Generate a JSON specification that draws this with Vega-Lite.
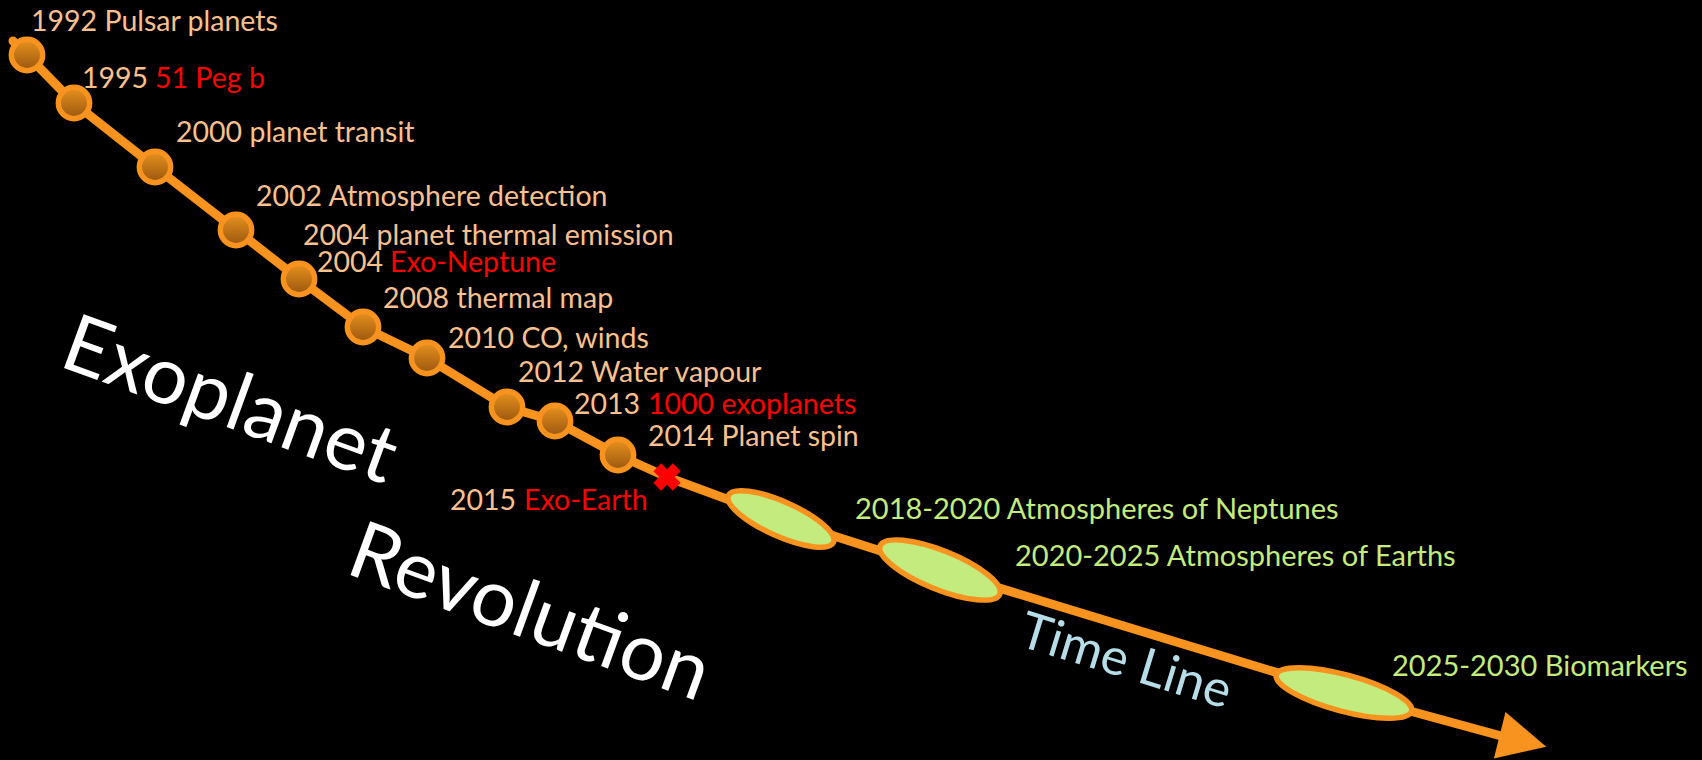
{
  "$schema": "https://vega.github.io/schema/vega-lite/v6.json",
  "width": 1702,
  "height": 760,
  "autosize": {"type": "fit", "contains": "padding"},
  "padding": 0,
  "background": "#000000",
  "config": {"view": {"stroke": null}},
  "datasets": {
    "path": [
      {"i": 1, "x": 13, "y": 41},
      {"i": 2, "x": 27, "y": 55},
      {"i": 3, "x": 74, "y": 103},
      {"i": 4, "x": 155, "y": 167},
      {"i": 5, "x": 236, "y": 230},
      {"i": 6, "x": 299, "y": 279},
      {"i": 7, "x": 363, "y": 327},
      {"i": 8, "x": 427, "y": 358},
      {"i": 9, "x": 507, "y": 407},
      {"i": 10, "x": 555, "y": 421},
      {"i": 11, "x": 618, "y": 455},
      {"i": 12, "x": 667, "y": 477},
      {"i": 13, "x": 781, "y": 519},
      {"i": 14, "x": 940, "y": 570},
      {"i": 15, "x": 1344, "y": 693},
      {"i": 16, "x": 1505, "y": 737}
    ],
    "events": [
      {"kind": "circle", "year": "1992", "x": 27, "y": 55},
      {"kind": "circle", "year": "1995", "x": 74, "y": 103},
      {"kind": "circle", "year": "2000", "x": 155, "y": 167},
      {"kind": "circle", "year": "2002", "x": 236, "y": 230},
      {"kind": "circle", "year": "2004", "x": 299, "y": 279},
      {"kind": "circle", "year": "2008", "x": 363, "y": 327},
      {"kind": "circle", "year": "2010", "x": 427, "y": 358},
      {"kind": "circle", "year": "2012", "x": 507, "y": 407},
      {"kind": "circle", "year": "2013", "x": 555, "y": 421},
      {"kind": "circle", "year": "2014", "x": 618, "y": 455},
      {"kind": "cross", "year": "2015", "x": 667, "y": 477},
      {"kind": "ellipseA", "year": "2018-2020", "x": 781, "y": 519},
      {"kind": "ellipseB", "year": "2020-2025", "x": 940, "y": 570},
      {"kind": "ellipseC", "year": "2025-2030", "x": 1344, "y": 693},
      {"kind": "arrow", "year": "future", "x": 1523, "y": 741}
    ],
    "labels": [
      {"tone": "peach", "text": "1992 Pulsar planets", "x": 31, "y": 31},
      {"tone": "year", "text": "1995", "x": 148, "y": 88},
      {"tone": "red", "text": "51 Peg b", "x": 155, "y": 88},
      {"tone": "peach", "text": "2000 planet transit", "x": 176, "y": 142},
      {"tone": "peach", "text": "2002 Atmosphere detection", "x": 256, "y": 206},
      {"tone": "peach", "text": "2004 planet thermal emission", "x": 303, "y": 245},
      {"tone": "year", "text": "2004", "x": 383, "y": 272},
      {"tone": "red", "text": "Exo-Neptune", "x": 390, "y": 272},
      {"tone": "peach", "text": "2008 thermal map", "x": 383, "y": 308},
      {"tone": "peach", "text": "2010 CO, winds", "x": 448, "y": 348},
      {"tone": "peach", "text": "2012 Water vapour", "x": 518, "y": 382},
      {"tone": "year", "text": "2013", "x": 640, "y": 414},
      {"tone": "red", "text": "1000 exoplanets", "x": 648, "y": 414},
      {"tone": "peach", "text": "2014 Planet spin", "x": 648, "y": 446},
      {"tone": "year", "text": "2015", "x": 516, "y": 510},
      {"tone": "red", "text": "Exo-Earth", "x": 524, "y": 510},
      {"tone": "green", "text": "2018-2020 Atmospheres of Neptunes", "x": 855, "y": 519},
      {"tone": "green", "text": "2020-2025 Atmospheres of Earths", "x": 1015, "y": 566},
      {"tone": "green", "text": "2025-2030 Biomarkers", "x": 1392, "y": 676},
      {"tone": "title", "text": "Exoplanet", "x": 221, "y": 425},
      {"tone": "title", "text": "Revolution", "x": 521, "y": 637},
      {"tone": "timeline", "text": "Time Line", "x": 1121, "y": 677}
    ]
  },
  "encoding": {
    "x": {"field": "x", "type": "quantitative", "scale": {"domain": [0, 1702], "nice": false, "zero": false}, "axis": null},
    "y": {"field": "y", "type": "quantitative", "scale": {"domain": [0, 760], "nice": false, "zero": false, "reverse": true}, "axis": null}
  },
  "layer": [
    {
      "data": {"name": "path"},
      "mark": {"type": "line", "color": "#F7931E", "strokeWidth": 9, "strokeJoin": "round", "strokeCap": "round"},
      "encoding": {"order": {"field": "i", "type": "quantitative"}}
    },
    {
      "data": {"name": "events"},
      "transform": [{"filter": "datum.kind === 'arrow'"}],
      "mark": {"type": "point", "shape": "M -1 -1 L 1 0 L -1 1 Z", "filled": true, "fill": "#F7931E", "opacity": 1, "size": 2304, "angle": 14}
    },
    {
      "data": {"name": "events"},
      "transform": [{"filter": "datum.kind === 'circle'"}],
      "mark": {
        "type": "point", "shape": "circle", "filled": true, "opacity": 1, "size": 980,
        "fill": {"gradient": "linear", "x1": 0, "y1": 0, "x2": 0, "y2": 1, "stops": [{"offset": 0, "color": "#E8921F"}, {"offset": 1, "color": "#9A560E"}]},
        "stroke": "#F7931E", "strokeWidth": 5.5
      }
    },
    {
      "data": {"name": "events"},
      "transform": [{"filter": "datum.kind === 'cross'"}],
      "mark": {"type": "point", "shape": "cross", "filled": true, "fill": "#FF0000", "opacity": 1, "size": 760, "angle": 45}
    },
    {
      "data": {"name": "events"},
      "transform": [{"filter": "datum.kind === 'ellipseA'"}],
      "mark": {"type": "point", "shape": "M -1 0 C -1 -0.1657 -0.5523 -0.3 0 -0.3 C 0.5523 -0.3 1 -0.1657 1 0 C 1 0.1657 0.5523 0.3 0 0.3 C -0.5523 0.3 -1 0.1657 -1 0 Z", "filled": true, "fill": "#C4EB7D", "stroke": "#F7931E", "strokeWidth": 5.5, "opacity": 1, "size": 13225, "angle": 24}
    },
    {
      "data": {"name": "events"},
      "transform": [{"filter": "datum.kind === 'ellipseB'"}],
      "mark": {"type": "point", "shape": "M -1 0 C -1 -0.1657 -0.5523 -0.3 0 -0.3 C 0.5523 -0.3 1 -0.1657 1 0 C 1 0.1657 0.5523 0.3 0 0.3 C -0.5523 0.3 -1 0.1657 -1 0 Z", "filled": true, "fill": "#C4EB7D", "stroke": "#F7931E", "strokeWidth": 5.5, "opacity": 1, "size": 16641, "angle": 22}
    },
    {
      "data": {"name": "events"},
      "transform": [{"filter": "datum.kind === 'ellipseC'"}],
      "mark": {"type": "point", "shape": "M -1 0 C -1 -0.1436 -0.5523 -0.26 0 -0.26 C 0.5523 -0.26 1 -0.1436 1 0 C 1 0.1436 0.5523 0.26 0 0.26 C -0.5523 0.26 -1 0.1436 -1 0 Z", "filled": true, "fill": "#C4EB7D", "stroke": "#F7931E", "strokeWidth": 5.5, "opacity": 1, "size": 19600, "angle": 15}
    },
    {
      "data": {"name": "labels"},
      "transform": [{"filter": "datum.tone === 'peach'"}],
      "mark": {"type": "text", "font": "Lato", "fontSize": 28.5, "color": "#FAC090", "align": "left", "baseline": "alphabetic"},
      "encoding": {"text": {"field": "text"}}
    },
    {
      "data": {"name": "labels"},
      "transform": [{"filter": "datum.tone === 'year'"}],
      "mark": {"type": "text", "font": "Lato", "fontSize": 28.5, "color": "#FAC090", "align": "right", "baseline": "alphabetic"},
      "encoding": {"text": {"field": "text"}}
    },
    {
      "data": {"name": "labels"},
      "transform": [{"filter": "datum.tone === 'red'"}],
      "mark": {"type": "text", "font": "Lato", "fontSize": 28.5, "color": "#FF0000", "align": "left", "baseline": "alphabetic"},
      "encoding": {"text": {"field": "text"}}
    },
    {
      "data": {"name": "labels"},
      "transform": [{"filter": "datum.tone === 'green'"}],
      "mark": {"type": "text", "font": "Lato", "fontSize": 29, "color": "#C4EB7D", "align": "left", "baseline": "alphabetic"},
      "encoding": {"text": {"field": "text"}}
    },
    {
      "data": {"name": "labels"},
      "transform": [{"filter": "datum.tone === 'title'"}],
      "mark": {"type": "text", "font": "Lato", "fontSize": 80, "color": "#FFFFFF", "align": "center", "baseline": "alphabetic", "angle": 20},
      "encoding": {"text": {"field": "text"}}
    },
    {
      "data": {"name": "labels"},
      "transform": [{"filter": "datum.tone === 'timeline'"}],
      "mark": {"type": "text", "font": "Lato", "fontSize": 51, "color": "#B7DEE8", "align": "center", "baseline": "alphabetic", "angle": 17},
      "encoding": {"text": {"field": "text"}}
    }
  ]
}
